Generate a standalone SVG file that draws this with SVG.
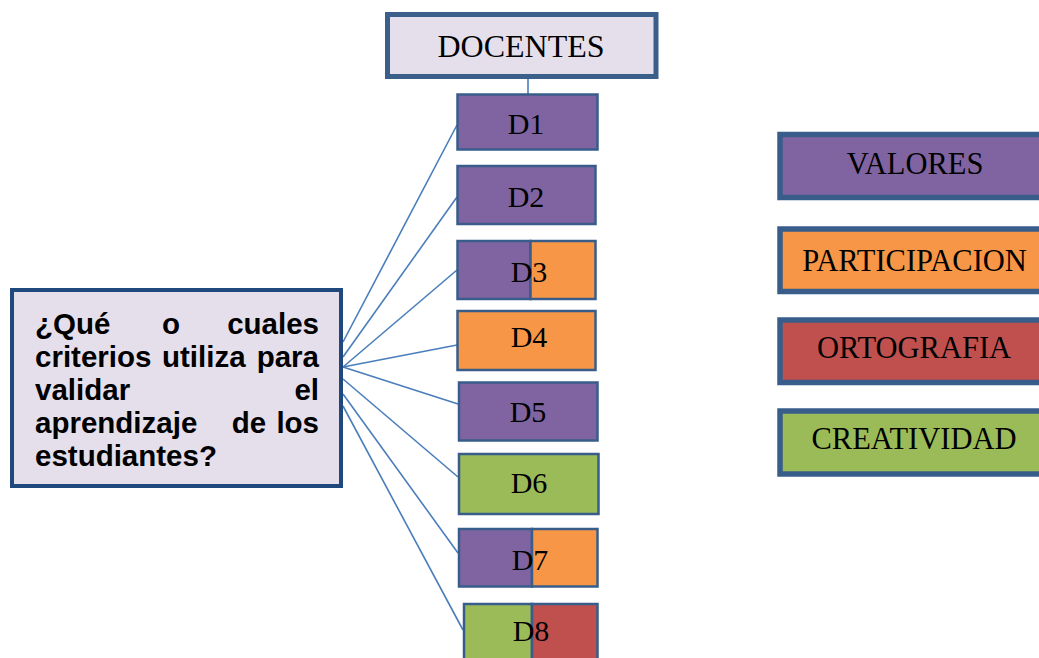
<svg xmlns="http://www.w3.org/2000/svg" width="1039" height="658" viewBox="0 0 1039 658">
<style>
.t{font-family:"Liberation Serif","Times New Roman",serif;fill:#000;text-anchor:middle}
.q{font-family:"Liberation Sans",Arial,sans-serif;font-weight:bold;font-size:29.5px;fill:#000}
.d{stroke:#385d8a;stroke-width:2.5}
.lg{stroke:#385d8a;stroke-width:5.5}
.pu{fill:#8064a2}.or{fill:#f79646}.re{fill:#c0504d}.gr{fill:#9bbb59}
.c{stroke:#4a7ebb;stroke-width:1.6;fill:none}
</style>
<rect width="1039" height="658" fill="#fff"/>
<g id="connectors">
<line class="c" x1="528" y1="78" x2="528" y2="94"/>
<line class="c" x1="343" y1="342" x2="457" y2="125"/>
<line class="c" x1="343" y1="357" x2="457" y2="197"/>
<line class="c" x1="343" y1="367" x2="457" y2="270"/>
<line class="c" x1="343" y1="367" x2="457" y2="345"/>
<line class="c" x1="343" y1="367" x2="458" y2="404"/>
<line class="c" x1="343" y1="379" x2="458" y2="477"/>
<line class="c" x1="343" y1="394" x2="458" y2="553"/>
<line class="c" x1="343" y1="406" x2="463" y2="630"/>
</g>
<g id="docentes">
<rect x="387.5" y="14.5" width="268.5" height="62" fill="#e5dfec" stroke="#3a5f8b" stroke-width="5"/>
<text class="t" x="521" y="57" font-size="32">DOCENTES</text>
</g>
<g id="question">
<rect x="12" y="290" width="329" height="196" fill="#e5dfec" stroke="#1f497d" stroke-width="4"/>
<text class="q" x="35" y="334">¿Qué</text>
<text class="q" x="171" y="334" text-anchor="middle">o</text>
<text class="q" x="319" y="334" text-anchor="end">cuales</text>
<text class="q" x="35" y="367">criterios</text>
<text class="q" x="162" y="367">utiliza</text>
<text class="q" x="319" y="367" text-anchor="end">para</text>
<text class="q" x="35" y="400">validar</text>
<text class="q" x="319" y="400" text-anchor="end">el</text>
<text class="q" x="35" y="433">aprendizaje</text>
<text class="q" x="249" y="433" text-anchor="middle">de</text>
<text class="q" x="319" y="433" text-anchor="end">los</text>
<text class="q" x="35" y="466">estudiantes?</text>
</g>
<g id="d1">
<rect class="d pu" x="457.5" y="94.5" width="140" height="55"/>
<text class="t" x="526" y="134" font-size="30">D1</text>
</g>
<g id="d2">
<rect class="d pu" x="457.5" y="166" width="138" height="58"/>
<text class="t" x="526" y="207" font-size="30">D2</text>
</g>
<g id="d3">
<rect class="d pu" x="457.5" y="241" width="73" height="58"/>
<rect class="d or" x="530.5" y="241" width="65" height="58"/>
<text class="t" x="529" y="282" font-size="30">D3</text>
</g>
<g id="d4">
<rect class="d or" x="457.5" y="311" width="138" height="59"/>
<text class="t" x="529" y="347" font-size="30">D4</text>
</g>
<g id="d5">
<rect class="d pu" x="459" y="382.5" width="138.5" height="58"/>
<text class="t" x="528" y="422" font-size="30">D5</text>
</g>
<g id="d6">
<rect class="d gr" x="459" y="454" width="139.5" height="60"/>
<text class="t" x="529" y="493" font-size="30">D6</text>
</g>
<g id="d7">
<rect class="d pu" x="459" y="529" width="73" height="57.5"/>
<rect class="d or" x="532" y="529" width="65.5" height="57.5"/>
<text class="t" x="530" y="570" font-size="30">D7</text>
</g>
<g id="d8">
<rect class="d gr" x="464" y="604" width="68" height="70"/>
<rect class="d re" x="532" y="604" width="65.5" height="70"/>
<text class="t" x="531" y="641" font-size="30">D8</text>
</g>
<g id="valores">
<rect class="lg pu" x="780" y="134.5" width="270" height="63"/>
<text class="t" x="915" y="174" font-size="30.5">VALORES</text>
</g>
<g id="participacion">
<rect class="lg or" x="780" y="229" width="270" height="62.5"/>
<text class="t" x="914.5" y="271" font-size="30.5">PARTICIPACION</text>
</g>
<g id="ortografia">
<rect class="lg re" x="780" y="320" width="270" height="62.5"/>
<text class="t" x="914" y="358" font-size="30.5">ORTOGRAFIA</text>
</g>
<g id="creatividad">
<rect class="lg gr" x="780" y="411" width="270" height="63"/>
<text class="t" x="914" y="449" font-size="30.5">CREATIVIDAD</text>
</g>
</svg>
